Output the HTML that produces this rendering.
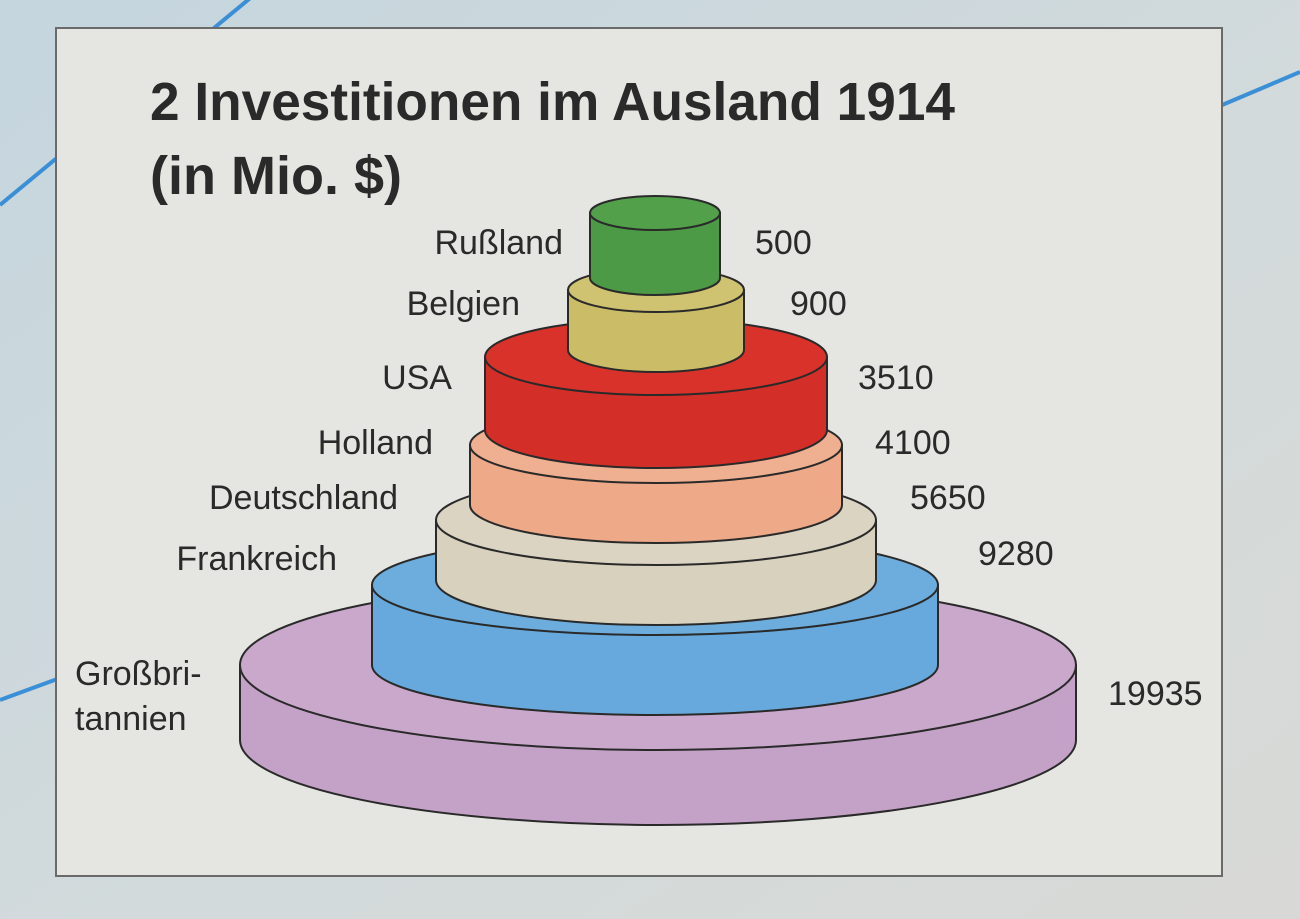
<!DOCTYPE html>
<html><head><meta charset="utf-8"><style>
html,body{margin:0;padding:0;width:1300px;height:919px;overflow:hidden;background:#d6dcdc;}
svg{display:block}
text{font-family:"Liberation Sans",sans-serif;fill:#2a2a2a}
</style></head><body>
<svg width="1300" height="919" viewBox="0 0 1300 919">
<defs>
<linearGradient id="bg" x1="0" y1="0" x2="1" y2="1">
<stop offset="0" stop-color="#c5d6de"/><stop offset="0.6" stop-color="#d3dadb"/><stop offset="1" stop-color="#d8d9d6"/></linearGradient>
</defs>
<rect width="1300" height="919" fill="url(#bg)"/>
<line x1="0" y1="205" x2="260" y2="-10" stroke="#3b8fd6" stroke-width="4"/>
<line x1="1215" y1="108" x2="1300" y2="72" stroke="#3b8fd6" stroke-width="4"/>
<line x1="0" y1="700" x2="60" y2="678" stroke="#3b8fd6" stroke-width="4"/>
<rect x="56" y="28" width="1166" height="848" fill="#e5e5e1" stroke="#6a6a6a" stroke-width="2"/>
<text x="150" y="120" font-size="54" font-weight="bold" textLength="805" lengthAdjust="spacingAndGlyphs">2 Investitionen im Ausland 1914</text>
<text x="150" y="194" font-size="54" font-weight="bold" textLength="252" lengthAdjust="spacingAndGlyphs">(in Mio. $)</text>
<g stroke="#2a2a2a" stroke-width="2">
<path d="M240,665 L240,740 A418,85 0 0 0 1076,740 L1076,665 Z" fill="#c4a2c8"/>
<ellipse cx="658" cy="665" rx="418" ry="85" fill="#c9a8cc"/>
<path d="M372,585 L372,665 A283,50 0 0 0 938,665 L938,585 Z" fill="#67a9dc"/>
<ellipse cx="655" cy="585" rx="283" ry="50" fill="#6cadde"/>
<path d="M436,520 L436,580 A220,45 0 0 0 876,580 L876,520 Z" fill="#d8d1bd"/>
<ellipse cx="656" cy="520" rx="220" ry="45" fill="#dbd4c2"/>
<path d="M470,445 L470,505 A186,38 0 0 0 842,505 L842,445 Z" fill="#eda988"/>
<ellipse cx="656" cy="445" rx="186" ry="38" fill="#efb092"/>
<path d="M485,357 L485,430 A171,38 0 0 0 827,430 L827,357 Z" fill="#d42e28"/>
<ellipse cx="656" cy="357" rx="171" ry="38" fill="#d8322b"/>
<path d="M568,290 L568,350 A88,22 0 0 0 744,350 L744,290 Z" fill="#cbbd68"/>
<ellipse cx="656" cy="290" rx="88" ry="22" fill="#cfc270"/>
<path d="M590,213 L590,278 A65,17 0 0 0 720,278 L720,213 Z" fill="#4c9a45"/>
<ellipse cx="655" cy="213" rx="65" ry="17" fill="#52a04a"/>
</g>
<g font-size="34">
<text x="563" y="254" text-anchor="end">Rußland</text>
<text x="755" y="254">500</text>
<text x="520" y="315" text-anchor="end">Belgien</text>
<text x="790" y="315">900</text>
<text x="452" y="389" text-anchor="end">USA</text>
<text x="858" y="389">3510</text>
<text x="433" y="454" text-anchor="end">Holland</text>
<text x="875" y="454">4100</text>
<text x="398" y="509" text-anchor="end">Deutschland</text>
<text x="910" y="509">5650</text>
<text x="337" y="570" text-anchor="end">Frankreich</text>
<text x="978" y="565">9280</text>
<text x="75" y="685">Großbri-</text>
<text x="75" y="730">tannien</text>
<text x="1108" y="705">19935</text>
</g>
</svg>
</body></html>
